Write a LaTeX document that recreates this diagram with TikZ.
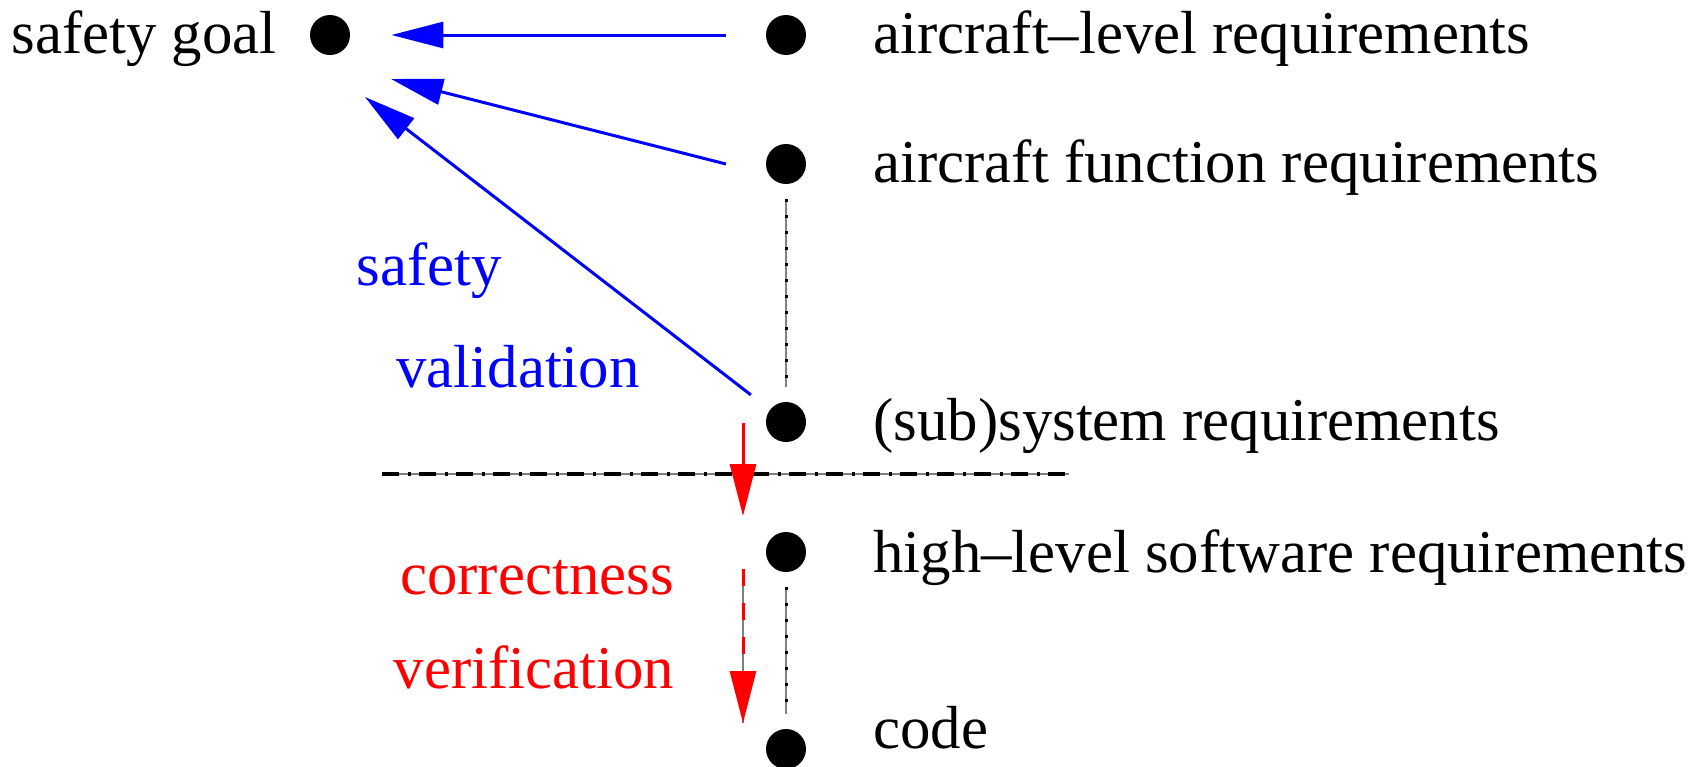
\documentclass[tikz,border=0pt]{standalone}
\usepackage{fontspec}
\setmainfont{Liberation Serif}
\usepackage{tikz}
\usetikzlibrary{arrows.meta, positioning}
\tikzset{
  dot/.style={circle, fill=black, inner sep=0pt, minimum size=20pt},
  req/.style={font=\fontsize{30.4}{36}\selectfont, anchor=base west, inner sep=0pt},
  lbl/.style={font=\fontsize{30.4}{36}\selectfont, anchor=base, inner sep=0pt},
  valid/.style={->, blue, line width=1.5pt},
  verif/.style={->, red, line width=1.5pt},
  refine/.style={gray, line width=0.6pt, shorten <=7.5pt, shorten >=7.5pt},
}

\begin{document}
\begin{tikzpicture}[x=0.5pt, y=-0.5pt, >={Triangle[length=26pt, width=13pt]}]
\useasboundingbox (0,0) rectangle (1701,766);
% requirement levels
\node[dot] (goal) at (330,35) {};
\node[dot] (acl) at (786,35) {};
\node[dot] (acf) at (786,164) {};
\node[dot] (sys) at (786,422) {};
\node[dot] (hlr) at (786,552) {};
\node[dot] (code) at (786,749) {};
\node[req, anchor=base east] (goalT) at (277,53) {safety goal};
\node[req] (aclT) at (873,53) {aircraft--level requirements};
\node[req] (acfT) at (873,182) {aircraft function requirements};
\node[req] (sysT) at (873,440) {(sub)system requirements};
\node[req] (hlrT) at (873,572) {high--level software requirements};
\node[req] (codeT) at (873,748) {code};
% refinement (dotted)
\draw[refine] (acf) -- (sys);
\draw[refine, line width=1.5pt, black, dash pattern=on 1.5pt off 6.5pt] (acf) -- (sys);
\draw[refine] (hlr) -- (code);
\draw[refine, line width=1.5pt, black, dash pattern=on 1.5pt off 6.5pt] (hlr) -- (code);
% safety validation
\coordinate (acfS) at (726,164);
\coordinate (tip2) at (391,79);
\coordinate (tip3) at (365,97);
\draw[valid, shorten <=20pt, shorten >=20.5pt] (acl) -- (goal);
\draw[valid] (acfS) -- (tip2);
\draw[valid, shorten <=12pt] (sys) -- (tip3);
\node[lbl, blue] (safT) at (429,285) {safety};
\node[lbl, blue] (valT) at (518,387) {validation};
% boundary
\coordinate (bndL) at (382,474);
\coordinate (bndR) at (1069,474);
\draw[gray, line width=0.6pt] (bndL) -- (bndR);
\draw[line width=1.8pt, dash pattern=on 8.5pt off 4.5pt on 1.5pt off 4pt] (bndL) -- (bndR);
% correctness verification
\coordinate (v1s) at (743,423);
\coordinate (v1e) at (743,516);
\coordinate (v2s) at (743,569);
\coordinate (v2e) at (743,723);
\draw[verif] (v1s) -- (v1e);
\draw[gray, line width=0.6pt] (v2s) -- (v2e);
\draw[verif, dash pattern=on 8.5pt off 8.5pt] (v2s) -- (v2e);
\node[lbl, red] (corT) at (537,594) {correctness};
\node[lbl, red] (verT) at (534,688) {verification};
\end{tikzpicture}
\end{document}
